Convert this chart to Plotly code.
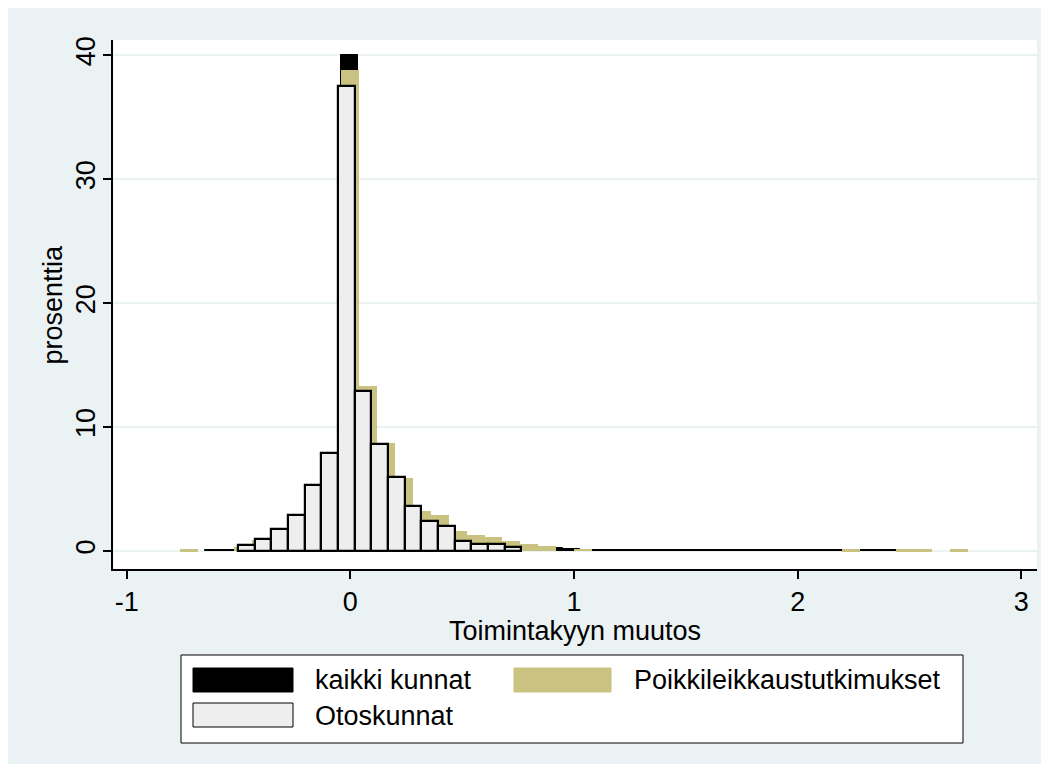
import plotly.graph_objects as go

# ---------------- data ----------------
# Otoskunnat (light bars with black outline)
white_x = [-0.465, -0.390, -0.316, -0.241, -0.167, -0.092, -0.018, 0.057, 0.131,
           0.206, 0.280, 0.355, 0.429, 0.504, 0.578, 0.653, 0.727]
white_y = [0.5, 1.0, 1.8, 2.9, 5.3, 7.9, 37.5, 12.9, 8.6,
           6.0, 3.6, 2.4, 2.0, 0.8, 0.6, 0.6, 0.3]
white_width = 0.0745

# Poikkileikkaustutkimukset (khaki bars)
khaki_x = [-0.72, -0.64, -0.56, -0.48, -0.40, -0.32, -0.24, -0.16, -0.08, 0.00,
           0.08, 0.16, 0.24, 0.32, 0.40, 0.48, 0.56, 0.64, 0.72, 0.80,
           0.88, 0.96, 1.04, 1.12, 1.20, 1.28, 1.36, 1.44, 1.52, 1.60,
           1.68, 1.76, 1.84, 1.92, 2.00, 2.08, 2.16, 2.24, 2.32, 2.40,
           2.48, 2.56, 2.64, 2.72, 2.80]
khaki_y = [0.15, 0, 0, 0.3, 0.9, 1.8, 3.0, 5.0, 7.5, 38.8,
           13.3, 8.7, 5.9, 3.2, 2.9, 1.6, 1.27, 1.1, 0.78, 0.59,
           0.4, 0, 0.19, 0, 0, 0, 0, 0, 0, 0,
           0, 0, 0, 0, 0, 0, 0, 0.15, 0, 0,
           0.15, 0.15, 0, 0.15, 0]
khaki_width = 0.08

# kaikki kunnat (black bars)
black_x = [-0.612, -0.536, -0.460, -0.383, -0.307, -0.231, -0.155, -0.079, -0.002, 0.074,
           0.150, 0.226, 0.303, 0.379, 0.455, 0.531, 0.607, 0.684, 0.760, 0.836,
           0.912, 0.988, 1.064, 1.141, 1.217, 1.293, 1.369, 1.445, 1.522, 1.598,
           1.674, 1.750, 1.826, 1.903, 1.979, 2.055, 2.131, 2.207, 2.284, 2.360,
           2.436]
black_y = [0.08, 0.08, 0.3, 0.9, 1.7, 2.9, 5.0, 7.5, 40.0, 13.0,
           8.6, 5.8, 3.1, 2.7, 1.5, 1.2, 1.0, 0.7, 0.5, 0.35,
           0.25, 0.15, 0.08, 0.08, 0.08, 0.08, 0.08, 0.08, 0.08, 0.08,
           0.08, 0.08, 0.08, 0.08, 0.08, 0.08, 0.08, 0.08, 0.08, 0.08,
           0.08]
black_width = 0.0762

x_ticks = [-1, 0, 1, 2, 3]
y_ticks = [0, 10, 20, 30, 40]
x_title = "Toimintakyyn muutos"
y_title = "prosenttia"
legend_labels = ["kaikki kunnat", "Poikkileikkaustutkimukset", "Otoskunnat"]

# ---------------- styling ----------------
OFF = 8                      # page body margin of the html page
W, H = 1034, 756
ML, MT = 113 - OFF, 40 - OFF
MR = W - (1037 - OFF)
MB = H - (569 - OFF)
PW, PH = W - ML - MR, H - MT - MB
BG = "#EAF2F3"
KHAKI = "#C9C281"
LIGHT = "#EEEEEE"
FONT = "Liberation Sans, Arial, sans-serif"
FS = 27


def px(x):
    """reference-screenshot x pixel -> paper coordinate"""
    return (x - OFF - ML) / PW


def py(y):
    """reference-screenshot y pixel -> paper coordinate"""
    return (H - MB - (y - OFF)) / PH


fig = go.Figure()
fig.add_trace(go.Bar(x=black_x, y=black_y, width=black_width, name=legend_labels[0],
                     marker=dict(color="black", line=dict(color="black", width=1))))
fig.add_trace(go.Bar(x=khaki_x, y=khaki_y, width=khaki_width, name=legend_labels[1],
                     marker=dict(color=KHAKI, line=dict(width=0))))
fig.add_trace(go.Bar(x=white_x, y=white_y, width=white_width, name=legend_labels[2],
                     marker=dict(color=LIGHT, line=dict(color="black", width=2.2))))

shapes = []
# legend box
shapes.append(dict(type="rect", xref="paper", yref="paper",
                   x0=px(181), x1=px(963), y0=py(655), y1=py(743),
                   line=dict(color="black", width=1), fillcolor="white"))
# legend swatches
shapes.append(dict(type="rect", xref="paper", yref="paper",
                   x0=px(193), x1=px(293), y0=py(668), y1=py(692),
                   line=dict(color="black", width=1), fillcolor="black"))
shapes.append(dict(type="rect", xref="paper", yref="paper",
                   x0=px(514), x1=px(611), y0=py(668), y1=py(692),
                   line=dict(color=KHAKI, width=1), fillcolor=KHAKI))
shapes.append(dict(type="rect", xref="paper", yref="paper",
                   x0=px(193), x1=px(293), y0=py(703), y1=py(727),
                   line=dict(color="black", width=1), fillcolor=LIGHT))

annotations = [
    dict(text=legend_labels[0], x=px(313), y=py(680), xanchor="left", yanchor="middle"),
    dict(text=legend_labels[1], x=px(632), y=py(680), xanchor="left", yanchor="middle"),
    dict(text=legend_labels[2], x=px(313), y=py(716), xanchor="left", yanchor="middle"),
    dict(text=x_title, x=0.5, y=py(631), xanchor="center", yanchor="middle"),
    dict(text=y_title, x=px(52), y=0.5, xanchor="center", yanchor="middle", textangle=-90),
]
for a in annotations:
    a.update(xref="paper", yref="paper", showarrow=False,
             font=dict(family=FONT, size=FS, color="black"))

fig.update_layout(
    width=W, height=H,
    margin=dict(l=ML, r=MR, t=MT, b=MB, pad=0),
    paper_bgcolor=BG, plot_bgcolor="white",
    barmode="overlay", bargap=0,
    showlegend=False,
    shapes=shapes, annotations=annotations,
    font=dict(family=FONT, size=FS, color="black"),
)
fig.update_xaxes(range=[-1.061, 3.07], tickvals=x_ticks, ticktext=[str(v) for v in x_ticks],
                 showgrid=False, zeroline=False, showline=True, linecolor="black", linewidth=2,
                 ticks="outside", ticklen=8, tickwidth=2, tickcolor="black",
                 tickfont=dict(family=FONT, size=FS, color="black"), ticklabelstandoff=0)
fig.update_yaxes(range=[-1.45, 41.24], tickvals=y_ticks, ticktext=[str(v) for v in y_ticks],
                 showgrid=True, gridcolor=BG, gridwidth=2, zeroline=False,
                 showline=True, linecolor="black", linewidth=2,
                 ticks="outside", ticklen=8, tickwidth=2, tickcolor="black", tickangle=-90,
                 tickfont=dict(family=FONT, size=FS, color="black"), ticklabelstandoff=-3)

fig.write_html("out.html")
